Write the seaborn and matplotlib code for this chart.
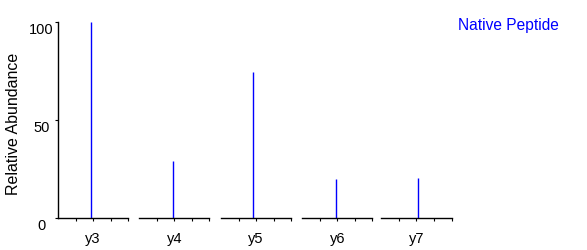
import matplotlib
matplotlib.use("Agg")
import matplotlib.pyplot as plt
import seaborn as sns
import pandas as pd

# ---- data ----
ions = ["y3", "y4", "y5", "y6", "y7"]
peak_pos = [1.886, 1.94, 1.846, 1.94, 2.11]       # position within each ion window
abundance = [100, 29.2, 74.2, 19.9, 20.4]         # relative abundance
y_ticks = [0, 50, 100]
x_ticks = [1, 2, 3, 4]
title_text = "Native Peptide"
y_label = "Relative Abundance"

df = pd.DataFrame({"ion": ions, "pos": peak_pos, "abundance": abundance})

sns.set_style("white")
plt.rcParams["font.family"] = ["Liberation Sans", "DejaVu Sans"]
for k in ["text.color", "axes.labelcolor", "xtick.color", "ytick.color"]:
    plt.rcParams[k] = "black"

W, H = 587, 251
fig = plt.figure(figsize=(W / 100, H / 100), dpi=100)

lefts = [58, 139.3, 221, 302.3, 381]
rights = [128, 209.3, 291, 372.3, 451.7]
top_px, bot_px = 22.7, 219.0

for i, (ion, l, r) in enumerate(zip(ions, lefts, rights)):
    ax = fig.add_axes([l / W, (H - bot_px) / H, (r - l) / W, (bot_px - top_px) / H])
    sub = df[df["ion"] == ion]
    ax.vlines(sub["pos"], 0, sub["abundance"], color="#0000FF", linewidth=1.0)
    ax.set_xlim(0, 4)
    ax.set_ylim(0, 100)
    ax.set_xticks(x_ticks)
    ax.set_xticklabels([])
    ax.tick_params(axis="x", direction="out", length=2.2, width=0.8, color="black", bottom=True)
    for s in ["top", "right"]:
        ax.spines[s].set_visible(False)
    ax.spines["bottom"].set_color("black")
    ax.spines["bottom"].set_linewidth(1.0)
    ax.set_xlabel(ion, fontsize=10.5, labelpad=4.0, color="black")
    if i == 0:
        ax.spines["left"].set_color("black")
        ax.spines["left"].set_linewidth(1.0)
        ax.set_yticks(y_ticks)
        ax.set_yticklabels([str(t) for t in y_ticks], fontsize=10.5, color="black")
        ax.tick_params(axis="y", direction="out", length=2.0, width=0.8, color="black", left=True, pad=10)
        for lab in ax.get_yticklabels():
            lab.set_horizontalalignment("center")
            lab.set_verticalalignment("top")
        ax.set_ylabel(y_label, fontsize=11.5, color="black")
        ax.yaxis.set_label_coords((21 - l) / (r - l), 0.485)
    else:
        ax.spines["left"].set_visible(False)
        ax.set_yticks([])
    ax.set_facecolor("none")

fig.text(457.7 / W, (H - 30) / H, title_text, color="#0000FF", fontsize=11.2,
         ha="left", va="baseline")

fig.savefig("out.png", dpi=100, facecolor="white")
